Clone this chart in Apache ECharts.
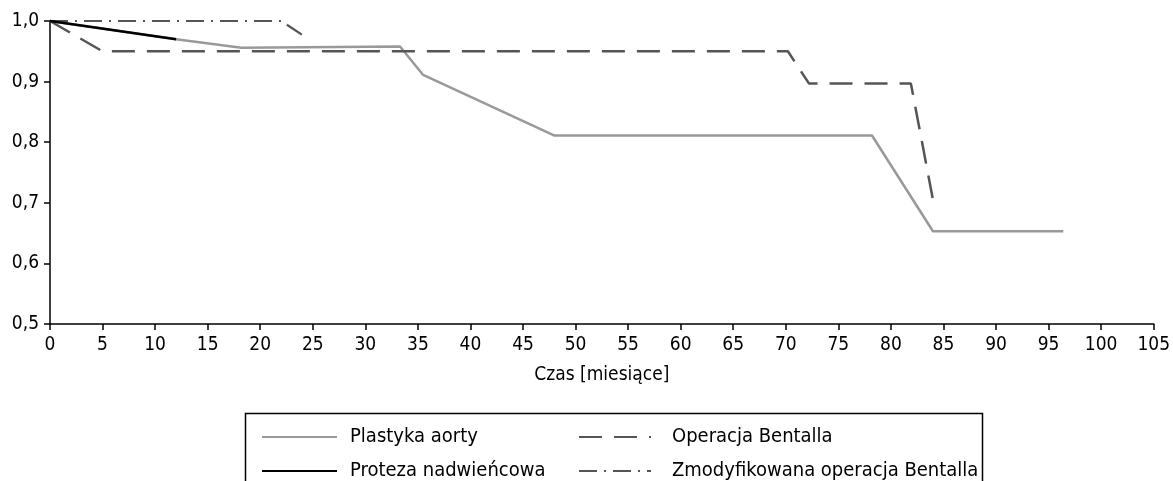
<!DOCTYPE html>
<html>
<head>
<meta charset="utf-8">
<script src="https://cdn.jsdelivr.net/npm/echarts@6/dist/echarts.min.js"></script>
<style>
  html, body { margin: 0; padding: 0; background: #fff; }
  #chart { width: 1173px; height: 481px; }
</style>
</head>
<body>
<div id="chart"></div>
<script>
// ---- data ----
const seriesNames = ['Plastyka aorty', 'Proteza nadwieńcowa', 'Operacja Bentalla', 'Zmodyfikowana operacja Bentalla'];

const plastykaMonths = [0, 12, 18.2, 33.3, 35.5, 48, 78.2, 84, 96.4];
const plastykaValues = [1.0, 0.970, 0.956, 0.958, 0.911, 0.811, 0.811, 0.653, 0.653];

const protezaMonths = [0, 12];
const protezaValues = [1.0, 0.970];

const bentallaMonths = [0, 5, 70.2, 72.2, 81.9, 84.1];
const bentallaValues = [1.0, 0.950, 0.950, 0.897, 0.897, 0.696];

const zmodMonths = [0, 22, 24];
const zmodValues = [1.0, 1.0, 0.977];

const xTicks = { min: 0, max: 105, step: 5 };
const yTicks = { min: 0.5, max: 1.0, step: 0.1 };

// ---- chart ----
const FONT = '"DejaVu Sans Condensed", "Liberation Sans Narrow", "Liberation Sans", sans-serif';
const FS = 19;
const FS_LEG = 20;

function pairs(xs, ys) { return xs.map((x, i) => [x, ys[i]]); }

const chart = echarts.init(document.getElementById('chart'), null, { renderer: 'canvas' });

const option = {
  animation: false,
  backgroundColor: '#ffffff',
  textStyle: { fontFamily: FONT, color: '#000' },
  grid: { left: 50, right: 15, top: 21, bottom: 157, containLabel: false },
  xAxis: {
    type: 'value',
    min: xTicks.min, max: xTicks.max, interval: xTicks.step,
    name: 'Czas [miesiące]',
    nameLocation: 'middle',
    nameGap: 42,
    nameTextStyle: { fontFamily: FONT, fontSize: FS, color: '#000' },
    axisLine: { show: true, lineStyle: { color: '#000', width: 1.5 } },
    axisTick: { show: true, inside: false, length: 6, lineStyle: { color: '#000', width: 1.5 } },
    axisLabel: { fontFamily: FONT, fontSize: FS, color: '#000', margin: 12 },
    splitLine: { show: false }
  },
  yAxis: {
    type: 'value',
    min: yTicks.min, max: yTicks.max, interval: yTicks.step,
    axisLine: { show: true, lineStyle: { color: '#000', width: 1.5 } },
    axisTick: { show: true, inside: false, length: 6, lineStyle: { color: '#000', width: 1.5 } },
    axisLabel: {
      fontFamily: FONT, fontSize: FS, color: '#000', margin: 11,
      formatter: v => v.toFixed(1).replace('.', ',')
    },
    splitLine: { show: false }
  },
  legend: [
    {
      orient: 'vertical', left: 261, top: 427,
      itemWidth: 75, itemHeight: 14, itemGap: 14,
      itemStyle: { opacity: 0 },
      textStyle: { fontFamily: FONT, fontSize: FS_LEG, color: '#000', padding: [0, 0, 0, 8] },
      data: [seriesNames[0], seriesNames[1]],
      padding: 0
    },
    {
      orient: 'vertical', left: 578, top: 427,
      itemWidth: 72, itemHeight: 14, itemGap: 14,
      itemStyle: { opacity: 0 },
      textStyle: { fontFamily: FONT, fontSize: FS_LEG, color: '#000', padding: [0, 0, 0, 16] },
      data: [seriesNames[2], seriesNames[3]],
      padding: 0
    }
  ],
  graphic: [
    {
      type: 'rect', left: 243, top: 411, silent: true,
      shape: { width: 737, height: 100 },
      style: { fill: 'none', stroke: '#000', lineWidth: 1.5 }
    }
  ],
  series: [
    {
      name: seriesNames[0], type: 'line', data: pairs(plastykaMonths, plastykaValues),
      symbol: 'none', clip: false, z: 2,
      lineStyle: { color: '#999999', width: 2.5 }, itemStyle: { color: '#999999' }
    },
    {
      name: seriesNames[1], type: 'line', data: pairs(protezaMonths, protezaValues),
      symbol: 'none', clip: false, z: 4,
      lineStyle: { color: '#000000', width: 2.5 }, itemStyle: { color: '#000000' }
    },
    {
      name: seriesNames[2], type: 'line', data: pairs(bentallaMonths, bentallaValues),
      symbol: 'none', clip: false, z: 3,
      lineStyle: { color: '#555555', width: 2.5, type: [23, 12] }, itemStyle: { color: '#555555' }
    },
    {
      name: seriesNames[3], type: 'line', data: pairs(zmodMonths, zmodValues),
      symbol: 'none', clip: false, z: 3,
      lineStyle: { color: '#555555', width: 2.2, type: [18, 7, 2, 7] }, itemStyle: { color: '#555555' }
    }
  ]
};

chart.setOption(option);
</script>
</body>
</html>
